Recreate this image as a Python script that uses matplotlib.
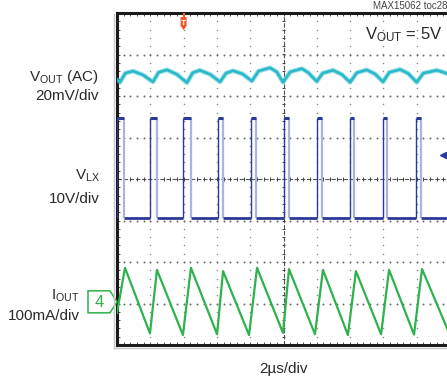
import matplotlib
matplotlib.use("Agg")
import matplotlib.pyplot as plt
import numpy as np
from matplotlib.patches import Polygon

plt.rcParams["font.family"] = ["Liberation Sans", "DejaVu Sans"]
plt.rcParams["mathtext.fontset"] = "custom"
plt.rcParams["mathtext.rm"] = "Liberation Sans"
plt.rcParams["mathtext.it"] = "Liberation Sans"

W, H = 447, 379

# time in us (2us/div, 10 div), vertical in screen divisions (8 div)
# VOUT (AC) ripple - cyan
vout_t = [0.0, 0.18, 0.5, 0.96, 1.55, 2.16, 2.5, 3.0, 3.6, 4.2, 4.55, 4.98, 5.6,
          6.19, 6.55, 6.97, 7.55, 8.1, 8.5, 9.19, 9.6, 9.97, 10.4, 11.1, 11.5,
          12.0, 12.35, 12.97, 13.5, 14.0, 14.4, 15.0, 15.5, 15.98, 16.35, 17.0,
          17.5, 18.0, 18.4, 19.2, 19.7, 20.0]
vout_v = [2.39, 2.33, 2.55, 2.60, 2.51, 2.34, 2.57, 2.63, 2.52, 2.32, 2.56, 2.62, 2.52,
          2.34, 2.55, 2.61, 2.53, 2.36, 2.60, 2.68, 2.58, 2.33, 2.58, 2.66, 2.56,
          2.35, 2.55, 2.62, 2.52, 2.33, 2.56, 2.63, 2.53, 2.34, 2.57, 2.64,
          2.54, 2.33, 2.55, 2.62, 2.56, 2.50]

# VLX switching node - blue
lx_rise = [0.0, 1.98, 3.98, 6.07, 8.05, 10.04, 12.02, 14.0, 15.98, 17.96]
lx_fall = [0.42, 2.40, 4.44, 6.37, 8.35, 10.33, 12.31, 14.23, 16.22, 18.26]
lx_high = 1.46
lx_low = -0.93
lx_gnd = 0.58

# IOUT inductor current - green
iout_peak_t = [0.48, 2.40, 4.44, 6.37, 8.41, 10.33, 12.37, 14.35, 16.34, 18.32]
iout_peak_v = [-2.14, -2.19, -2.14, -2.22, -2.14, -2.17, -2.19, -2.22, -2.19, -2.17]
iout_min_t = [0.0, 1.98, 3.96, 6.01, 7.93, 9.97, 11.89, 13.87, 15.86, 17.84, 19.85]
iout_min_v = [-3.23, -3.72, -3.76, -3.74, -3.76, -3.71, -3.74, -3.76, -3.74, -3.75, -3.62]
iout_gnd = -2.96

trig_t = 4.0

left_labels = [
    (r"V$_{\rm OUT}$ (AC)", 99, 81),
    ("20mV/div", 99, 100),
    (r"V$_{\rm LX}$", 100, 180),
    ("10V/div", 100, 203),
    (r"I$_{\rm OUT}$", 80, 300),
    ("100mA/div", 80, 320),
]

C_CYAN = "#2ab9c9"
C_BLUE = "#2b3a96"
C_BLUE_L = "#a9b4e0"
C_GREEN = "#2eb24d"
C_TEXT = "#2a2a2a"


def px(x, y):
    return (x / W, 1 - y / H)


fig = plt.figure(figsize=(W / 100, H / 100), dpi=100)
ax = fig.add_axes([117 / W, 34 / H, 333 / W, 332 / H])
ax.set_xlim(0, 20)
ax.set_ylim(-4, 4)

# graticule dots
gx = [2, 4, 6, 8, 12, 14, 16, 18]
gy = [-3, -2, -1, 1, 2, 3]
dy = np.arange(-4, 4.01, 0.2)
dx = np.arange(0, 20.01, 0.4)
for x in gx:
    ax.scatter(np.full_like(dy, x), dy, s=1.2, color="#8a8a8a", lw=0, zorder=1)
for y in gy:
    ax.scatter(dx, np.full_like(dx, y), s=2.0, color="#6a6a6a", lw=0, zorder=1)

# center axes with ticks
ax.axhline(0, color="#555555", lw=0.8, ls=(0, (4, 1.5)), zorder=1)
ax.axvline(10, color="#555555", lw=0.8, ls=(0, (4, 1.5)), zorder=1)
ax.vlines(dx, -0.05, 0.05, color="#444444", lw=0.7, zorder=1)
ax.hlines(dy, 9.88, 10.12, color="#444444", lw=0.7, zorder=1)

# VOUT trace (noise band + core)
ax.plot(vout_t, vout_v, color=C_CYAN, lw=3.4, alpha=0.45, solid_joinstyle="round", zorder=3)
ax.plot(vout_t, vout_v, color=C_CYAN, lw=1.9, solid_joinstyle="round", zorder=3)

# VLX trace
lx_next = lx_rise[1:] + [20.0]
ax.hlines([lx_high] * len(lx_rise), lx_rise, lx_fall, color=C_BLUE, lw=2.2, zorder=3)
ax.hlines([lx_low] * len(lx_fall), lx_fall, lx_next, color=C_BLUE, lw=2.0, zorder=3)
ax.vlines(lx_rise, lx_low, lx_high, color=C_BLUE, lw=1.0, zorder=3)
ax.vlines(lx_fall, lx_low, lx_high, color=C_BLUE_L, lw=1.6, zorder=2)
ax.plot([19.6], [lx_gnd], marker="<", ms=5, color=C_BLUE, zorder=4)

# IOUT trace
it = sorted(zip(iout_min_t + iout_peak_t, iout_min_v + iout_peak_v))
ax.plot([p[0] for p in it], [p[1] for p in it], color=C_GREEN, lw=1.6,
        solid_joinstyle="round", zorder=3)

ax.set_xticks(np.arange(0, 20.01, 2))
ax.set_xticks(dx, minor=True)
ax.set_yticks(np.arange(-4, 4.01, 1))
ax.set_yticks(dy, minor=True)
ax.tick_params(which="both", direction="in", length=2.2, width=0.6, color="#333333",
               top=True, right=False, labelbottom=False, labelleft=False)
for s in ["left", "top", "bottom"]:
    ax.spines[s].set_linewidth(2.2)
    ax.spines[s].set_color("#1a1a1a")
ax.spines["right"].set_visible(False)

# shadow under frame
fig.add_artist(plt.Line2D([px(114, 0)[0], 1], [px(0, 348)[1]] * 2, color="#c8c8c8", lw=1))
fig.add_artist(plt.Line2D([px(114, 0)[0]] * 2, [px(0, 14)[1], px(0, 348)[1]], color="#c8c8c8", lw=1))

# trigger marker
tx = 117 + trig_t / 20 * 333
trig = Polygon([px(tx - 3, 17), px(tx + 3, 17), px(tx + 3, 26), px(tx, 30), px(tx - 3, 26)],
               closed=True, transform=fig.transFigure, facecolor="#ec5a2a", edgecolor="none")
fig.add_artist(trig)
fig.add_artist(plt.Line2D([px(tx, 0)[0]] * 2, [px(0, 14)[1], px(0, 17)[1]], color="#ec5a2a", lw=1.5))
fig.text(*px(tx, 23.5), "T", color="white", fontsize=6, fontweight="bold", ha="center", va="center")

# channel 4 marker
gy_px = 179 - iout_gnd * 41.5
box = Polygon([px(88, gy_px - 11), px(110, gy_px - 11), px(117, gy_px),
               px(110, gy_px + 11), px(88, gy_px + 11)], closed=True,
              transform=fig.transFigure, facecolor="white", edgecolor=C_GREEN, lw=1.1)
fig.add_artist(box)
fig.text(*px(99, gy_px + 1), "4", color=C_GREEN, fontsize=12, ha="center", va="center")

# labels
for txt, x, y in left_labels:
    fig.text(*px(x, y), txt, color=C_TEXT, fontsize=11, ha="right", va="baseline")
fig.text(*px(283, 373), "2µs/div", color=C_TEXT, fontsize=11, ha="center", va="baseline")
fig.text(*px(365, 39), r"V$_{\rm OUT}$ = 5V", color=C_TEXT, fontsize=12, ha="left", va="baseline")
fig.text(*px(373, 9), "MAX15062 toc28", color="#444444", fontsize=7, ha="left", va="baseline")

fig.savefig("out.png", dpi=100)
